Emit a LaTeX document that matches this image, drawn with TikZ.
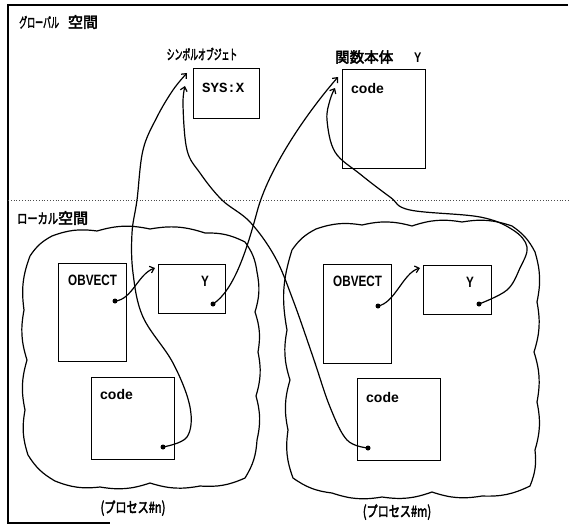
\documentclass[tikz,border=0pt]{standalone}
\usepackage{fontspec}
\usepackage{graphicx}
\setmainfont{Liberation Sans}
\newfontfamily\jp{Noto Sans CJK JP}[FakeBold=3]
\newfontfamily\nar{Liberation Sans}[FakeStretch=0.78]
\newfontfamily\mono{Liberation Mono}
\usetikzlibrary{arrows.meta,calc}
\tikzset{
  box/.style={draw, line width=1pt, inner sep=0pt, outer sep=0pt, anchor=north west},
  conn/.style={line width=1.2pt, -{Straight Barb[length=4pt,width=7pt]}},
  dotc/.style={circle, fill, inner sep=0pt, minimum size=5pt},
  cloudline/.style={draw, line width=1.2pt, every to/.style={bend left=14}},
  codetxt/.style={font=\bfseries\fontsize{14}{14}\selectfont, inner sep=0pt, anchor=west},
  objtxt/.style={font=\nar\bfseries\fontsize{15}{15}\selectfont, inner sep=0pt, anchor=west},
  jptxt/.style={font=\jp, inner sep=0pt},
}
\begin{document}
\begin{tikzpicture}[x=1pt,y=-1pt]
\useasboundingbox (0,0) rectangle (569,524);
% frame
\draw[line width=1.3pt] (568,5) -- (8,5) -- (8,523) -- (110,523);
\draw[line width=0.8pt, dotted, black!70] (8,200) -- (569,200);
% space labels
\node[jptxt, anchor=west] (glob) at (19,22) {\fontsize{14}{14}\selectfont\scalebox{0.57}[1]{グローバル}\hspace{9pt}{\fontsize{15}{15}\selectfont 空間}};
\node[jptxt, anchor=west] (loc) at (17,218) {\fontsize{14}{14}\selectfont\scalebox{0.73}[1]{ローカル}{\fontsize{15}{15}\selectfont 空間}};
% global objects
\node[jptxt] (symlbl) at (202,54) {\fontsize{14}{14}\selectfont\scalebox{0.56}[1]{シンボルオブジェト}};
\node[jptxt, anchor=west] (fnlbl) at (335,57) {\fontsize{14.5}{14.5}\selectfont 関数本体\hspace{21pt}{\nar\bfseries\fontsize{14}{14}\selectfont Y}};
\node[box, minimum width=66pt, minimum height=49pt] (sys) at (193,69) {};
\node[font=\mono\bfseries\fontsize{14}{14}\selectfont, inner sep=0pt, anchor=west] (systxt) at ($(sys.north west)+(9,19)$) {SYS:X};
\node[box, minimum width=83pt, minimum height=98pt] (fn) at (342,70) {};
\node[codetxt] (fntxt) at ($(fn.north west)+(9,18)$) {code};
% clouds
\draw[cloudline] (30,256) to (52,236) to (97,231) to (150,229) to (205,233) to (245,242)
  to (257,272) to (255,312) to (258,352) to (256,396) to (257,440) to (245,478)
  to (200,486) to (150,483) to (100,487) to (55,481) to (28,455) to (25,410)
  to (27,360) to (24,310) to (30,256);
\draw[cloudline] (292,250) to (316,229) to (362,225) to (412,226) to (462,222) to (512,226)
  to (535,252) to (537,302) to (534,352) to (537,402) to (535,450) to (530,486)
  to (482,496) to (432,492) to (382,497) to (332,493) to (293,478) to (288,430)
  to (290,380) to (287,330) to (292,250);
% left process
\node[box, minimum width=68pt, minimum height=98pt] (lob) at (58,263) {};
\node[objtxt] (lobtxt) at ($(lob.north west)+(10,17)$) {OBVECT};
\node[box, minimum width=67pt, minimum height=49pt] (ly) at (158,264) {};
\node[objtxt] (lytxt) at ($(ly.north west)+(43,17)$) {Y};
\node[box, minimum width=83pt, minimum height=82pt] (lcode) at (91,377) {};
\node[codetxt] (lcodetxt) at ($(lcode.north west)+(9,17)$) {code};
\node[jptxt] (pn) at (133,508) {\fontsize{15}{15}\selectfont\scalebox{0.74}[1]{(プロセス\#n)}};
% right process
\node[box, minimum width=68pt, minimum height=99pt] (rob) at (323,264) {};
\node[objtxt] (robtxt) at ($(rob.north west)+(10,17)$) {OBVECT};
\node[box, minimum width=68pt, minimum height=49pt] (ry) at (423,265) {};
\node[objtxt] (rytxt) at ($(ry.north west)+(43,17)$) {Y};
\node[box, minimum width=83pt, minimum height=82pt] (rcode) at (357,378) {};
\node[codetxt] (rcodetxt) at ($(rcode.north west)+(9,19)$) {code};
\node[jptxt] (pm) at (397,512) {\fontsize{15}{15}\selectfont\scalebox{0.74}[1]{(プロセス\#m)}};
% dots
\node[dotc] (ld1) at (115,301) {};
\node[dotc] (ld2) at (213,304) {};
\node[dotc] (ld3) at (163,447) {};
\node[dotc] (rd1) at (378,306) {};
\node[dotc] (rd2) at (479,304) {};
\node[dotc] (rd3) at (368,448) {};
% arrow end points
\coordinate (lyin) at ($(ly.north west)+(-3,4)$);
\coordinate (ryin) at ($(ry.north west)+(-3,3)$);
\coordinate (sysin1) at ($(sys.north west)+(-6,4)$);
\coordinate (sysin2) at ($(sys.north west)+(-8,17)$);
\coordinate (fnin1) at ($(fn.north west)+(-4,7)$);
\coordinate (fnin2) at ($(fn.north west)+(-7,18)$);
% connectors
\draw[conn] (ld1.center) .. controls (132,300) and (138,274) .. (lyin);
\draw[conn] (rd1.center) .. controls (395,303) and (403,273) .. (ryin);
\draw[conn] (ld2.center) .. controls (235,290) and (248,245) .. (257,212)
  .. controls (268,170) and (305,115) .. (fnin1);
\draw[conn] plot[smooth, tension=0.6] coordinates {(ld3.center) (187,437) (190,407) (173,363) (143,317) (133,273) (132,233) (137,200) (143,150) (157,117) (173,90) (sysin1)};
\draw[conn] plot[smooth, tension=0.6] coordinates {(rd3.center) (347,440) (330,407) (313,357) (293,300) (275,257) (250,222) (222,200) (200,173) (187,150) (183,105) (sysin2)};
\draw[conn] plot[smooth, tension=0.6] coordinates {(rd2.center) (507,290) (520,268) (527,247) (513,230) (480,217) (410,210) (390,197) (360,174) (335,152) (327,120) (330,100) (fnin2)};
\end{tikzpicture}
\end{document}
